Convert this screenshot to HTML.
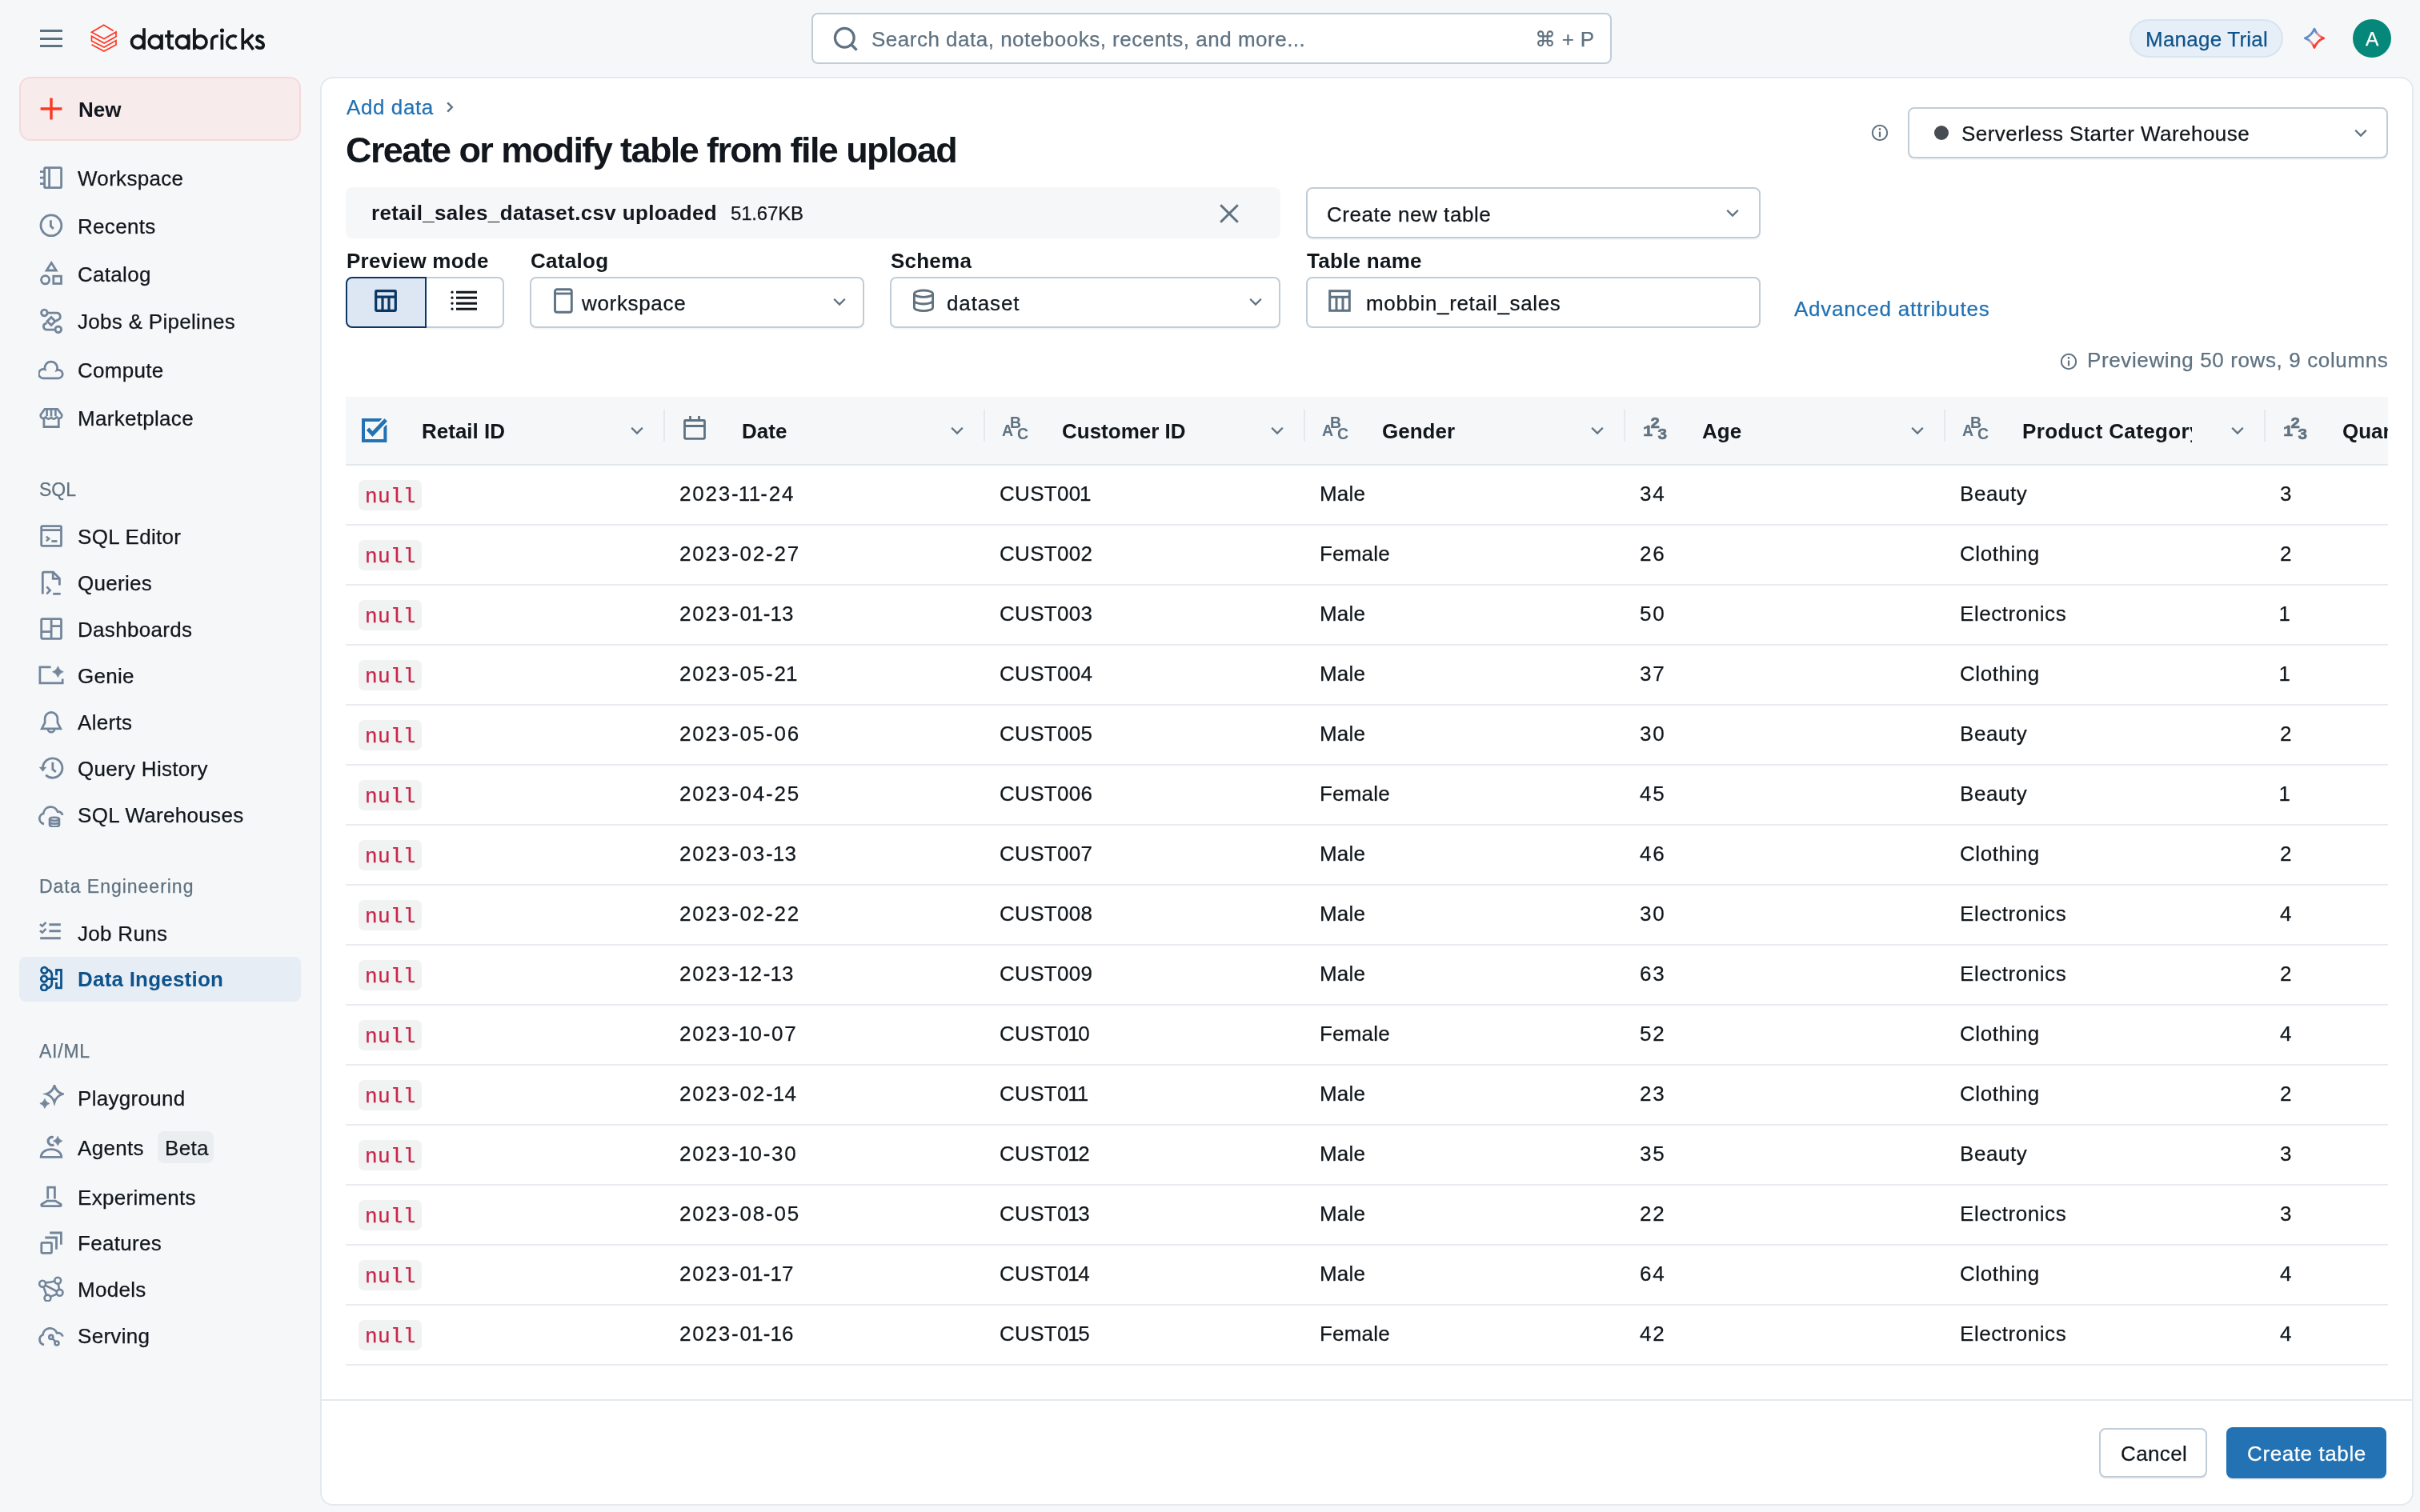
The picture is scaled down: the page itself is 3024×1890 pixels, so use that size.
<!DOCTYPE html><html><head><meta charset="utf-8"><title>Databricks</title><style>
html,body{margin:0;padding:0;background:#F6F7F9;}
#app{position:relative;width:3024px;height:1890px;overflow:hidden;background:#F6F7F9;font-family:"Liberation Sans", sans-serif;color:#11171C;}
.t{position:absolute;white-space:nowrap;will-change:transform;-webkit-text-stroke:0.25px currentColor;}
.r{position:absolute;box-sizing:border-box;}
.t.b{-webkit-text-stroke:0;}
</style></head><body><div id="app">
<div class="r" style="left:50px;top:37px;width:28px;height:3px;background:#5F7281;"></div>
<div class="r" style="left:50px;top:46.5px;width:28px;height:3px;background:#5F7281;"></div>
<div class="r" style="left:50px;top:56px;width:28px;height:3px;background:#5F7281;"></div>
<svg class="r" style="left:112px;top:29px;" width="36" height="38" viewBox="112 29 36 38" fill="none"><path d="M141.6 38.5L129.7 31.3 114.5 40.3 130 48.6 145 39.9V45.8L130.2 54 114.5 45.3V51.3L130.1 59 145 50.6V56L129.9 64.1 114.5 55.7" stroke="#FF3621" stroke-width="1.7" stroke-linejoin="miter"/></svg>
<svg class="r" style="left:150px;top:25px;" width="190" height="45" viewBox="150 25 190 45" fill="none"><g stroke="#11171C" stroke-width="3.7" fill="none"><circle cx="172.1" cy="52.5" r="7.6"/><path d="M180 35.2V62"/><circle cx="193.9" cy="52.5" r="7.6"/><path d="M202 43.2V62"/><path d="M211 38V56.3Q211 60.1 214.6 60.1H217.1M206.1 45H217.1"/><circle cx="228.1" cy="52.5" r="7.6"/><path d="M235.7 43.2V62"/><circle cx="250.4" cy="52.5" r="7.6"/><path d="M242.8 35.2V62"/><path d="M264.8 62V51.2Q264.8 45 272.8 45"/><path d="M277.4 43.2V62"/><circle cx="277.5" cy="38" r="2.6" fill="#11171C" stroke="none"/><path d="M295.6 46.2A7.6 7.6 0 1 0 295.6 58.8"/><path d="M303.3 35.2V62M316.4 43.4L305 54M308.6 51L316.5 62"/><path d="M328.9 47.6Q327.5 45 324.6 45Q321.1 45 321.1 48.1Q321.1 50.8 325 51.9Q329.2 53.2 329.2 56.4Q329.2 60.1 324.7 60.1Q321.3 60.1 319.8 57.4"/></g></svg>
<div class="r" style="left:1014px;top:16px;width:1000px;height:64px;background:#fff;border:2px solid #C0CDD8;border-radius:8px;"></div>
<svg class="r" style="left:1040px;top:32px;" width="34" height="34" viewBox="0 0 16 16" fill="none"><circle cx="7.2" cy="7.2" r="5.6" stroke="#5F7281" stroke-width="1.5"/><path d="M11.2 11.2L14.4 14.4" stroke="#5F7281" stroke-width="1.6"/></svg>
<div class="t " style="left:1089.0px;top:35.7px;font-size:26px;line-height:26px;color:#5F7281;letter-spacing:0.5px;">Search data, notebooks, recents, and more...</div>
<div class="t " style="left:1918.0px;top:35.7px;font-size:26px;line-height:26px;color:#5F7281;letter-spacing:0.3px;">⌘ + P</div>
<div class="r" style="left:2661px;top:24px;width:192px;height:48px;background:#E6EEF7;border:2px solid #D7E4F1;border-radius:24px;"></div>
<div class="t " style="left:2681.0px;top:36.2px;font-size:26px;line-height:26px;color:#0E538B;letter-spacing:0.23px;">Manage Trial</div>
<svg class="r" style="left:2876px;top:32px;" width="32" height="32" viewBox="0 0 16 16" fill="none"><defs><linearGradient id="sg" x1="0" y1="0" x2="1" y2="1"><stop offset="0" stop-color="#4F80C5"/><stop offset="0.40" stop-color="#6690C9"/><stop offset="0.45" stop-color="#E3929B"/><stop offset="0.6" stop-color="#E3848F"/><stop offset="0.68" stop-color="#FF3B2B"/><stop offset="1" stop-color="#FF3621"/></linearGradient></defs><path d="M8 2.05Q9.6 6.3 13.85 7.9Q9.6 9.5 8 13.75Q6.4 9.5 2.15 7.9Q6.4 6.3 8 2.05Z" stroke="url(#sg)" stroke-width="1.35" stroke-linejoin="round"/></svg>
<div class="r" style="left:2940px;top:24px;width:48px;height:48px;background:#05877A;border-radius:50%;"></div>
<div class="t " style="left:2956.0px;top:36.5px;font-size:24.5px;line-height:24.5px;color:#fff;letter-spacing:0px;">A</div>
<div class="r" style="left:24px;top:96px;width:352px;height:80px;background:#F8EBEC;border:2px solid #F6DADB;border-radius:14px;"></div>
<svg class="r" style="left:48px;top:120px;" width="32" height="32" viewBox="0 0 16 16" fill="none"><path d="M8 1.3V14.7M1.3 8H14.7" stroke="#FF3621" stroke-width="1.7"/></svg>
<div class="t b" style="left:97.5px;top:124.2px;font-size:26px;line-height:26px;color:#11171C;font-weight:700;letter-spacing:0.0px;">New</div>
<div class="r" style="left:24px;top:1196px;width:352px;height:56px;background:#E6EDF5;border-radius:8px;"></div>
<svg class="r" style="left:48px;top:205.8px;" width="32" height="32" viewBox="0 0 16 16" fill="none"><rect x="3.8" y="1.8" width="10.5" height="12.5" rx="0.7" stroke="#72859A" stroke-width="1.4" stroke-linecap="butt" stroke-linejoin="miter"/><path d="M6.8 1.8v12.5M1 4.3h2.8M1 8.05h2.8M1 11.8h2.8" stroke="#72859A" stroke-width="1.4" stroke-linecap="butt" stroke-linejoin="miter"/></svg>
<div class="t " style="left:96.8px;top:209.8px;font-size:26px;line-height:26px;color:#11171C;letter-spacing:0.3px;">Workspace</div>
<svg class="r" style="left:48px;top:265.9px;" width="32" height="32" viewBox="0 0 16 16" fill="none"><circle cx="7.95" cy="7.9" r="6.45" stroke="#72859A" stroke-width="1.4" stroke-linecap="butt" stroke-linejoin="miter"/><path d="M7.7 4.6V8.3L9.4 10" stroke="#72859A" stroke-width="1.4" stroke-linecap="butt" stroke-linejoin="miter"/></svg>
<div class="t " style="left:96.8px;top:269.9px;font-size:26px;line-height:26px;color:#11171C;letter-spacing:0.3px;">Recents</div>
<svg class="r" style="left:48px;top:325.6px;" width="32" height="32" viewBox="0 0 16 16" fill="none"><path d="M8.1 1.3L11.1 6H5.1Z" stroke="#72859A" stroke-width="1.4" stroke-linecap="butt" stroke-linejoin="miter"/><circle cx="4.3" cy="11.9" r="2.55" stroke="#72859A" stroke-width="1.4" stroke-linecap="butt" stroke-linejoin="miter"/><rect x="9.4" y="9.6" width="4.85" height="4.65" stroke="#72859A" stroke-width="1.4" stroke-linecap="butt" stroke-linejoin="miter"/></svg>
<div class="t " style="left:96.8px;top:329.6px;font-size:26px;line-height:26px;color:#11171C;letter-spacing:0.3px;">Catalog</div>
<svg class="r" style="left:48px;top:385.4px;" width="32" height="32" viewBox="0 0 16 16" fill="none"><circle cx="3.7" cy="3.0" r="1.9" stroke="#72859A" stroke-width="1.4" stroke-linecap="butt" stroke-linejoin="miter"/><circle cx="12.4" cy="13.4" r="1.9" stroke="#72859A" stroke-width="1.4" stroke-linecap="butt" stroke-linejoin="miter"/><path d="M5.6 3.1H11.3A2.25 2.25 0 0 1 12.2 7.45L10.6 8.2M5.4 9.4L4.3 9.8A2 2 0 0 0 5.5 13.55H10.5" stroke="#72859A" stroke-width="1.4" stroke-linecap="butt" stroke-linejoin="miter"/><path d="M8 5.8L10.5 8.3 8 10.8 5.5 8.3Z" stroke="#72859A" stroke-width="1.4" stroke-linecap="butt" stroke-linejoin="miter"/></svg>
<div class="t " style="left:96.8px;top:389.4px;font-size:26px;line-height:26px;color:#11171C;letter-spacing:0.3px;">Jobs &amp; Pipelines</div>
<svg class="r" style="left:48px;top:445.6px;" width="32" height="32" viewBox="0 0 16 16" fill="none"><path d="M3.1 13.4H12.6A2.6 2.6 0 1 0 11.5 8.4A3.9 3.9 0 1 0 4.1 7.9A2.85 2.85 0 1 0 3.1 13.4Z" stroke="#72859A" stroke-width="1.35" stroke-linecap="butt" stroke-linejoin="miter"/></svg>
<div class="t " style="left:96.8px;top:449.6px;font-size:26px;line-height:26px;color:#11171C;letter-spacing:0.3px;">Compute</div>
<svg class="r" style="left:48px;top:505.70000000000005px;" width="32" height="32" viewBox="0 0 16 16" fill="none"><path d="M3.95 2.7H11.95L14.6 6.2A1.65 1.65 0 0 1 11.25 7.2A1.6 1.6 0 0 1 8 7.2A1.6 1.6 0 0 1 4.75 7.2A1.65 1.65 0 0 1 1.4 6.2Z" stroke="#72859A" stroke-width="1.3" stroke-linecap="butt" stroke-linejoin="miter" stroke-linejoin="round"/><path d="M5.3 2.7V7M8 2.7V7M10.7 2.7V7" stroke="#72859A" stroke-width="1.3" stroke-linecap="butt" stroke-linejoin="miter"/><path d="M3.45 8.3V13.75H12.65V8.3" stroke="#72859A" stroke-width="1.4" stroke-linecap="butt" stroke-linejoin="miter"/></svg>
<div class="t " style="left:96.8px;top:509.7px;font-size:26px;line-height:26px;color:#11171C;letter-spacing:0.3px;">Marketplace</div>
<svg class="r" style="left:48px;top:654px;" width="32" height="32" viewBox="0 0 16 16" fill="none"><rect x="1.85" y="1.85" width="12.4" height="12.35" rx="0.6" stroke="#72859A" stroke-width="1.4" stroke-linecap="butt" stroke-linejoin="miter"/><path d="M1.8 4.3H14.2" stroke="#72859A" stroke-width="1.4" stroke-linecap="butt" stroke-linejoin="miter"/><path d="M4.9 8.3L6.6 9.75 4.9 11.2" stroke="#72859A" stroke-width="1.25" stroke-linecap="butt" stroke-linejoin="miter"/><path d="M8.2 11.25H11.7" stroke="#72859A" stroke-width="1.4" stroke-linecap="butt" stroke-linejoin="miter"/></svg>
<div class="t " style="left:96.8px;top:658.0px;font-size:26px;line-height:26px;color:#11171C;letter-spacing:0.3px;">SQL Editor</div>
<svg class="r" style="left:48px;top:711.9px;" width="32" height="32" viewBox="0 0 16 16" fill="none"><path d="M2.65 15.2V2.3A0.7 0.7 0 0 1 3.35 1.6H9.3L13.2 5.5V9.8" stroke="#72859A" stroke-width="1.4" stroke-linecap="butt" stroke-linejoin="miter"/><path d="M9.1 1.6V5.7H13.2" stroke="#72859A" stroke-width="1.35" stroke-linecap="butt" stroke-linejoin="miter"/><path d="M5.2 10.7L7.3 12.95 5.2 15.2" stroke="#72859A" stroke-width="1.35" stroke-linecap="butt" stroke-linejoin="miter"/><path d="M9.1 15.15H13.85" stroke="#72859A" stroke-width="1.4" stroke-linecap="butt" stroke-linejoin="miter"/></svg>
<div class="t " style="left:96.8px;top:715.9px;font-size:26px;line-height:26px;color:#11171C;letter-spacing:0.3px;">Queries</div>
<svg class="r" style="left:48px;top:769.8px;" width="32" height="32" viewBox="0 0 16 16" fill="none"><rect x="1.85" y="1.8" width="12.4" height="12.35" rx="0.6" stroke="#72859A" stroke-width="1.4" stroke-linecap="butt" stroke-linejoin="miter"/><path d="M8.05 1.8V14.15M1.8 9.8H8.05M8.05 6.35H14.25" stroke="#72859A" stroke-width="1.4" stroke-linecap="butt" stroke-linejoin="miter"/></svg>
<div class="t " style="left:96.8px;top:773.8px;font-size:26px;line-height:26px;color:#11171C;letter-spacing:0.3px;">Dashboards</div>
<svg class="r" style="left:48px;top:827.8px;" width="32" height="32" viewBox="0 0 16 16" fill="none"><path d="M7.8 2.95H0.95V12.9H15.1V10.3" stroke="#72859A" stroke-width="1.35" stroke-linecap="butt" stroke-linejoin="miter"/><path d="M12.2 2.4Q13 5.1 15.7 5.9Q13 6.7 12.2 9.4Q11.4 6.7 8.7 5.9Q11.4 5.1 12.2 2.4Z" fill="#72859A" stroke="#72859A" stroke-width="0.3" stroke-linejoin="round"/></svg>
<div class="t " style="left:96.8px;top:831.8px;font-size:26px;line-height:26px;color:#11171C;letter-spacing:0.3px;">Genie</div>
<svg class="r" style="left:48px;top:885.5px;" width="32" height="32" viewBox="0 0 16 16" fill="none"><path d="M8 2.2C5.85 2.2 4.05 3.9 4.05 6.2V8.7L2.1 12.4H13.9L11.95 8.7V6.2C11.95 3.9 10.15 2.2 8 2.2Z" stroke="#72859A" stroke-width="1.35" stroke-linecap="butt" stroke-linejoin="miter" stroke-linejoin="round"/><path d="M5.9 12.5A2.1 2.1 0 0 0 10.1 12.5" stroke="#72859A" stroke-width="1.35" stroke-linecap="butt" stroke-linejoin="miter"/></svg>
<div class="t " style="left:96.8px;top:889.5px;font-size:26px;line-height:26px;color:#11171C;letter-spacing:0.3px;">Alerts</div>
<svg class="r" style="left:48px;top:943.5px;" width="32" height="32" viewBox="0 0 16 16" fill="none"><path d="M2.9 9.1A5.9 5.9 0 1 0 4.9 3.6" stroke="#72859A" stroke-width="1.0" stroke-linecap="butt" stroke-linejoin="miter" opacity="0"/><path d="M2.75 8.05A6.1 6.1 0 1 1 4.6 12.4" stroke="#72859A" stroke-width="1.4" stroke-linecap="butt" stroke-linejoin="miter"/><path d="M0.4 7.35H5.1L2.75 10.2Z" fill="#72859A"/><path d="M8.9 4.4V8.8L10.9 10.4" stroke="#72859A" stroke-width="1.4" stroke-linecap="butt" stroke-linejoin="miter"/></svg>
<div class="t " style="left:96.8px;top:947.5px;font-size:26px;line-height:26px;color:#11171C;letter-spacing:0.3px;">Query History</div>
<svg class="r" style="left:48px;top:1001.5999999999999px;" width="32" height="32" viewBox="0 0 16 16" fill="none"><path d="M3.5 13.9A3.3 3.3 0 0 1 3.1 7.45A4.6 4.6 0 0 1 12 6.3A3 3 0 0 1 15.1 8.45" stroke="#72859A" stroke-width="1.35" stroke-linecap="butt" stroke-linejoin="miter"/><ellipse cx="10" cy="10.9" rx="3" ry="1.05" stroke="#72859A" stroke-width="1.3" stroke-linecap="butt" stroke-linejoin="miter"/><path d="M7 10.9V14.6A3 1.05 0 0 0 13 14.6V10.9M7 12.75A3 1.05 0 0 0 13 12.75" stroke="#72859A" stroke-width="1.3" stroke-linecap="butt" stroke-linejoin="miter"/></svg>
<div class="t " style="left:96.8px;top:1005.6px;font-size:26px;line-height:26px;color:#11171C;letter-spacing:0.3px;">SQL Warehouses</div>
<svg class="r" style="left:48px;top:1149.8px;" width="32" height="32" viewBox="0 0 16 16" fill="none"><path d="M1 2.6L2.4 3.9 4.7 1.5M1 6.6L2.4 7.9 4.7 5.5" stroke="#72859A" stroke-width="1.3" stroke-linecap="butt" stroke-linejoin="miter"/><path d="M6.7 2.85H13.9M6.7 6.85H13.9M1.1 11.35H13.9" stroke="#72859A" stroke-width="1.45" stroke-linecap="butt" stroke-linejoin="miter"/></svg>
<div class="t " style="left:96.8px;top:1153.8px;font-size:26px;line-height:26px;color:#11171C;letter-spacing:0.3px;">Job Runs</div>
<svg class="r" style="left:48px;top:1207.2px;" width="32" height="32" viewBox="0 0 16 16" fill="none"><circle cx="3.7" cy="2.95" r="1.9" stroke="#0E538B" stroke-width="1.4" stroke-linecap="butt" stroke-linejoin="miter"/><circle cx="3.55" cy="8.3" r="1.9" stroke="#0E538B" stroke-width="1.4" stroke-linecap="butt" stroke-linejoin="miter"/><circle cx="3.55" cy="13.7" r="1.9" stroke="#0E538B" stroke-width="1.4" stroke-linecap="butt" stroke-linejoin="miter"/><path d="M5.3 2.4Q8.4 3 8.4 6V10.8Q8.4 13.7 5.3 14.2M5.5 8.3H11.9" stroke="#0E538B" stroke-width="1.4" stroke-linecap="butt" stroke-linejoin="miter"/><path d="M11.25 6.1V2.75H14.25V13.9H11.25V10.5" stroke="#0E538B" stroke-width="1.4" stroke-linecap="butt" stroke-linejoin="miter"/></svg>
<div class="t b" style="left:96.8px;top:1211.2px;font-size:26px;line-height:26px;color:#0E538B;font-weight:700;letter-spacing:0.21px;">Data Ingestion</div>
<svg class="r" style="left:48px;top:1356.4px;" width="32" height="32" viewBox="0 0 16 16" fill="none"><path d="M10 0.5Q11.2 4.55 15.15 5.75Q11.2 6.95 10 11Q8.8 6.95 4.85 5.75Q8.8 4.55 10 0.5Z" stroke="#72859A" stroke-width="1.4" stroke-linecap="butt" stroke-linejoin="miter" stroke-linejoin="round"/><path d="M3.95 8.7Q4.6 11.05 6.95 11.7Q4.6 12.35 3.95 14.7Q3.3 12.35 0.95 11.7Q3.3 11.05 3.95 8.7Z" fill="#72859A" stroke="#72859A" stroke-width="0.4" stroke-linejoin="round"/></svg>
<div class="t " style="left:96.8px;top:1360.4px;font-size:26px;line-height:26px;color:#11171C;letter-spacing:0.3px;">Playground</div>
<svg class="r" style="left:48px;top:1418px;" width="32" height="32" viewBox="0 0 16 16" fill="none"><path d="M1.6 14.2C1.6 11.3 4.4 9.3 8 9.3S14.4 11.3 14.4 14.2Z" stroke="#72859A" stroke-width="1.4" stroke-linecap="butt" stroke-linejoin="miter" stroke-linejoin="round"/><path d="M9.3 1.85A2.5 2.5 0 1 0 9.7 6.45" stroke="#72859A" stroke-width="1.6" stroke-linecap="butt" stroke-linejoin="miter"/><path d="M12.1 1.2Q12.75 3.45 15 4.1Q12.75 4.75 12.1 7Q11.45 4.75 9.2 4.1Q11.45 3.45 12.1 1.2Z" fill="#72859A" stroke="#72859A" stroke-width="0.4" stroke-linejoin="round"/></svg>
<div class="t " style="left:96.8px;top:1422.0px;font-size:26px;line-height:26px;color:#11171C;letter-spacing:0.3px;">Agents</div>
<svg class="r" style="left:48px;top:1479.5px;" width="32" height="32" viewBox="0 0 16 16" fill="none"><path d="M5.85 9.3V2.05H10.2V9.3" stroke="#72859A" stroke-width="1.4" stroke-linecap="butt" stroke-linejoin="miter"/><path d="M5.4 10.55H10.6L13.9 12.6A0.7 0.7 0 0 1 13.5 13.85H2.5A0.7 0.7 0 0 1 2.1 12.6Z" stroke="#72859A" stroke-width="1.4" stroke-linecap="butt" stroke-linejoin="miter" stroke-linejoin="round"/></svg>
<div class="t " style="left:96.8px;top:1483.5px;font-size:26px;line-height:26px;color:#11171C;letter-spacing:0.3px;">Experiments</div>
<svg class="r" style="left:48px;top:1537px;" width="32" height="32" viewBox="0 0 16 16" fill="none"><rect x="1.9" y="8.2" width="6.35" height="6.45" rx="0.5" stroke="#72859A" stroke-width="1.4" stroke-linecap="butt" stroke-linejoin="miter"/><path d="M4.15 5H11.25V12.35M7.1 2H14.2V9.35" stroke="#72859A" stroke-width="1.4" stroke-linecap="butt" stroke-linejoin="miter"/></svg>
<div class="t " style="left:96.8px;top:1541.0px;font-size:26px;line-height:26px;color:#11171C;letter-spacing:0.3px;">Features</div>
<svg class="r" style="left:48px;top:1595.4px;" width="32" height="32" viewBox="0 0 16 16" fill="none"><circle cx="2.55" cy="4.85" r="1.95" stroke="#72859A" stroke-width="1.3" stroke-linecap="butt" stroke-linejoin="miter"/><circle cx="12.1" cy="2.85" r="1.95" stroke="#72859A" stroke-width="1.3" stroke-linecap="butt" stroke-linejoin="miter"/><circle cx="13.3" cy="10.4" r="1.95" stroke="#72859A" stroke-width="1.3" stroke-linecap="butt" stroke-linejoin="miter"/><circle cx="5.75" cy="13.75" r="1.95" stroke="#72859A" stroke-width="1.3" stroke-linecap="butt" stroke-linejoin="miter"/><path d="M4.45 4.2Q7.3 4.1 10.2 3.3M4.3 5.8L11.4 9.5M3.2 6.7L5 11.9M12.4 4.8L13 8.45M11.5 11.3L7.6 12.95" stroke="#72859A" stroke-width="1.3" stroke-linecap="butt" stroke-linejoin="miter"/></svg>
<div class="t " style="left:96.8px;top:1599.4px;font-size:26px;line-height:26px;color:#11171C;letter-spacing:0.3px;">Models</div>
<svg class="r" style="left:48px;top:1653.3px;" width="32" height="32" viewBox="0 0 16 16" fill="none"><path d="M3.55 14A3.3 3.3 0 0 1 2.8 7.7A4.5 4.5 0 0 1 11.5 6.6A3.3 3.3 0 0 1 15.25 8.85" stroke="#72859A" stroke-width="1.35" stroke-linecap="butt" stroke-linejoin="miter"/><circle cx="7.9" cy="9.2" r="1.25" stroke="#72859A" stroke-width="1.3" stroke-linecap="butt" stroke-linejoin="miter"/><circle cx="11.5" cy="13" r="1.25" stroke="#72859A" stroke-width="1.3" stroke-linecap="butt" stroke-linejoin="miter"/><path d="M8.8 10.1L10.6 12.1" stroke="#72859A" stroke-width="1.3" stroke-linecap="butt" stroke-linejoin="miter"/></svg>
<div class="t " style="left:96.8px;top:1657.3px;font-size:26px;line-height:26px;color:#11171C;letter-spacing:0.3px;">Serving</div>
<div class="t " style="left:48.5px;top:601.1px;font-size:23px;line-height:23px;color:#5F7281;letter-spacing:-0.01px;">SQL</div>
<div class="t " style="left:48.5px;top:1097.2px;font-size:23px;line-height:23px;color:#5F7281;letter-spacing:0.98px;">Data Engineering</div>
<div class="t " style="left:48.5px;top:1303.0px;font-size:23px;line-height:23px;color:#5F7281;letter-spacing:0.76px;">AI/ML</div>
<div class="r" style="left:197px;top:1414px;width:70px;height:40px;background:#EBEEF1;border-radius:8px;"></div>
<div class="t " style="left:206.0px;top:1422.0px;font-size:26px;line-height:26px;color:#11171C;letter-spacing:0.3px;">Beta</div>
<div class="r" style="left:400px;top:96px;width:2616px;height:1786px;background:#fff;border:2px solid #E4E9EE;border-radius:16px;"></div>
<div class="t " style="left:433.0px;top:121.3px;font-size:26px;line-height:26px;color:#2272B4;letter-spacing:0.59px;">Add data</div>
<svg class="r" style="left:552px;top:124px;" width="20" height="20" viewBox="0 0 10 10" fill="none"><path d="M3.6 2.2L6.4 5 3.6 7.8" stroke="#5F7281" stroke-width="1.2"/></svg>
<div class="t title b" style="left:432.0px;top:164.9px;font-size:45px;line-height:45px;color:#11171C;font-weight:700;letter-spacing:-1.59px;">Create or modify table from file upload</div>
<svg class="r" style="left:2338px;top:155px;" width="22" height="22" viewBox="0 0 11 11" fill="none"><circle cx="5.5" cy="5.5" r="4.6" stroke="#5F7281" stroke-width="1"/><path d="M5.5 4.8V8.2" stroke="#5F7281" stroke-width="1.1"/><circle cx="5.5" cy="3.2" r="0.65" fill="#5F7281"/></svg>
<div class="r" style="left:2384px;top:134px;width:600px;height:64px;background:#fff;border:2px solid #C0CDD8;border-radius:8px;box-shadow:0 2px 1px rgba(0,0,0,0.04);"></div>
<div class="r" style="left:2417px;top:157px;width:18px;height:18px;background:#464C52;border-radius:50%;"></div>
<div class="t " style="left:2451.0px;top:153.6px;font-size:26px;line-height:26px;color:#11171C;letter-spacing:0.46px;">Serverless Starter Warehouse</div>
<svg class="r" style="left:2938px;top:154px;" width="24" height="24" viewBox="0 0 12 12" fill="none"><path d="M2.6 4.4L6 7.8 9.4 4.4" stroke="#5F7281" stroke-width="1.15"/></svg>
<div class="r" style="left:432px;top:234px;width:1168px;height:64px;background:#F6F7F9;border-radius:8px;"></div>
<div class="t b" style="left:464.0px;top:252.8px;font-size:26px;line-height:26px;color:#11171C;font-weight:700;letter-spacing:0.35px;">retail_sales_dataset.csv uploaded</div>
<div class="t " style="left:913.0px;top:254.5px;font-size:24px;line-height:24px;color:#11171C;letter-spacing:-0.17px;">51.67KB</div>
<svg class="r" style="left:1520px;top:251px;" width="32" height="32" viewBox="0 0 16 16" fill="none"><path d="M2.6 2.6L13.4 13.4M13.4 2.6L2.6 13.4" stroke="#5F7281" stroke-width="1.5"/></svg>
<div class="r" style="left:1632px;top:234px;width:568px;height:64px;background:#fff;border:2px solid #C0CDD8;border-radius:8px;box-shadow:0 2px 1px rgba(0,0,0,0.04);"></div>
<div class="t " style="left:1658.0px;top:254.6px;font-size:26px;line-height:26px;color:#11171C;letter-spacing:0.54px;">Create new table</div>
<svg class="r" style="left:2153px;top:254px;" width="24" height="24" viewBox="0 0 12 12" fill="none"><path d="M2.6 4.4L6 7.8 9.4 4.4" stroke="#5F7281" stroke-width="1.15"/></svg>
<div class="t b" style="left:432.5px;top:313.0px;font-size:26px;line-height:26px;color:#11171C;font-weight:700;letter-spacing:0.23px;">Preview mode</div>
<div class="t b" style="left:662.5px;top:313.0px;font-size:26px;line-height:26px;color:#11171C;font-weight:700;letter-spacing:0.29px;">Catalog</div>
<div class="t b" style="left:1112.5px;top:313.0px;font-size:26px;line-height:26px;color:#11171C;font-weight:700;letter-spacing:0.23px;">Schema</div>
<div class="t b" style="left:1632.5px;top:313.0px;font-size:26px;line-height:26px;color:#11171C;font-weight:700;letter-spacing:0.27px;">Table name</div>
<div class="r" style="left:530px;top:346px;width:100px;height:64px;background:#fff;border:2px solid #C0CDD8;border-left:none;border-radius:0 8px 8px 0;box-shadow:0 2px 1px rgba(0,0,0,0.04);"></div>
<div class="r" style="left:432px;top:346px;width:101px;height:64px;background:#DDE7F3;border:2px solid #0B3765;border-radius:8px 0 0 8px;"></div>
<svg class="r" style="left:466px;top:360px;" width="32" height="32" viewBox="0 0 16 16" fill="none"><rect x="1.85" y="1.85" width="12.3" height="12.3" rx="0.4" stroke="#0B3765" stroke-width="1.6"/><path d="M1.8 5.6H14.2M6 5.6V14.2M10 5.6V14.2" stroke="#0B3765" stroke-width="1.6"/></svg>
<svg class="r" style="left:562px;top:362px;" width="36" height="28" viewBox="0 0 18 14" fill="none"><circle cx="1.5" cy="1.6" r="0.8" fill="#11171C"/><circle cx="1.5" cy="5.1" r="0.8" fill="#11171C"/><circle cx="1.5" cy="8.6" r="0.8" fill="#11171C"/><circle cx="1.5" cy="12.1" r="0.8" fill="#11171C"/><path d="M4 1.6H17M4 5.1H17M4 8.6H17M4 12.1H17" stroke="#11171C" stroke-width="1.45"/></svg>
<div class="r" style="left:662px;top:346px;width:418px;height:64px;background:#fff;border:2px solid #C0CDD8;border-radius:8px;box-shadow:0 2px 1px rgba(0,0,0,0.04);"></div>
<svg class="r" style="left:688px;top:360px;" width="32" height="32" viewBox="0 0 16 16" fill="none"><rect x="2.75" y="0.85" width="10.4" height="14.3" rx="1.3" stroke="#5F7281" stroke-width="1.45"/><path d="M2.75 3.5H13.15" stroke="#5F7281" stroke-width="1.4"/></svg>
<div class="t " style="left:727.0px;top:365.6px;font-size:26px;line-height:26px;color:#11171C;letter-spacing:0.67px;">workspace</div>
<svg class="r" style="left:1037px;top:365px;" width="24" height="24" viewBox="0 0 12 12" fill="none"><path d="M2.6 4.4L6 7.8 9.4 4.4" stroke="#5F7281" stroke-width="1.15"/></svg>
<div class="r" style="left:1112px;top:346px;width:488px;height:64px;background:#fff;border:2px solid #C0CDD8;border-radius:8px;box-shadow:0 2px 1px rgba(0,0,0,0.04);"></div>
<svg class="r" style="left:1138px;top:360px;" width="32" height="32" viewBox="0 0 16 16" fill="none"><ellipse cx="8" cy="3.6" rx="5.8" ry="2.1" stroke="#5F7281" stroke-width="1.4"/><path d="M2.2 3.6V12.2A5.8 2.1 0 0 0 13.8 12.2V3.6M2.2 7.9A5.8 2.1 0 0 0 13.8 7.9" stroke="#5F7281" stroke-width="1.4"/></svg>
<div class="t " style="left:1183.0px;top:365.6px;font-size:26px;line-height:26px;color:#11171C;letter-spacing:0.88px;">dataset</div>
<svg class="r" style="left:1557px;top:365px;" width="24" height="24" viewBox="0 0 12 12" fill="none"><path d="M2.6 4.4L6 7.8 9.4 4.4" stroke="#5F7281" stroke-width="1.15"/></svg>
<div class="r" style="left:1632px;top:346px;width:568px;height:64px;background:#fff;border:2px solid #C0CDD8;border-radius:8px;"></div>
<svg class="r" style="left:1658px;top:360px;" width="32" height="32" viewBox="0 0 16 16" fill="none"><rect x="1.85" y="1.85" width="12.3" height="12.3" stroke="#5F7281" stroke-width="1.5"/><path d="M1.8 5.6H14.2M6 5.6V14.2M10 5.6V14.2" stroke="#5F7281" stroke-width="1.5"/></svg>
<div class="t " style="left:1707.0px;top:365.6px;font-size:26px;line-height:26px;color:#11171C;letter-spacing:0.64px;">mobbin_retail_sales</div>
<div class="t " style="left:2242.0px;top:372.5px;font-size:26px;line-height:26px;color:#2272B4;letter-spacing:0.77px;">Advanced attributes</div>
<svg class="r" style="left:2574px;top:441px;" width="22" height="22" viewBox="0 0 11 11" fill="none"><circle cx="5.5" cy="5.5" r="4.6" stroke="#5F7281" stroke-width="1"/><path d="M5.5 4.8V8.2" stroke="#5F7281" stroke-width="1.1"/><circle cx="5.5" cy="3.2" r="0.65" fill="#5F7281"/></svg>
<div class="t " style="left:2608.0px;top:437.2px;font-size:26px;line-height:26px;color:#5F7281;letter-spacing:0.62px;">Previewing 50 rows, 9 columns</div>
<div class="r" style="left:432px;top:496px;width:2552px;height:85px;background:#F6F7F9;"></div>
<div class="r" style="left:432px;top:580px;width:2552px;height:2px;background:#E3E8ED;"></div>
<div class="r" style="left:829px;top:512px;width:2px;height:40px;background:#E4E9EE;"></div>
<div class="r" style="left:1229px;top:512px;width:2px;height:40px;background:#E4E9EE;"></div>
<div class="r" style="left:1629px;top:512px;width:2px;height:40px;background:#E4E9EE;"></div>
<div class="r" style="left:2029px;top:512px;width:2px;height:40px;background:#E4E9EE;"></div>
<div class="r" style="left:2429px;top:512px;width:2px;height:40px;background:#E4E9EE;"></div>
<div class="r" style="left:2829px;top:512px;width:2px;height:40px;background:#E4E9EE;"></div>
<svg class="r" style="left:446px;top:517px;" width="44" height="42" viewBox="446 517 44 42" fill="none"><path d="M477.2 525H454V551H481.4V531.2" stroke="#2272B4" stroke-width="4"/><path d="M459.6 536.1L465.5 542.4L482.2 524.8" stroke="#F6F7F9" stroke-width="9"/><path d="M459.6 536.1L465.5 542.4L482.2 524.8" stroke="#2272B4" stroke-width="4.8"/></svg>
<div class="t b" style="left:526.5px;top:526.4px;font-size:26px;line-height:26px;color:#11171C;font-weight:700;letter-spacing:0.0px;">Retail ID</div>
<svg class="r" style="left:784px;top:526px;" width="24" height="24" viewBox="0 0 12 12" fill="none"><path d="M2.6 4.4L6 7.8 9.4 4.4" stroke="#5F7281" stroke-width="1.15"/></svg>
<svg class="r" style="left:852px;top:518px;" width="32" height="36" viewBox="0 -2 16 18" fill="none"><rect x="1.75" y="1.75" width="12.5" height="11.4" rx="0.5" stroke="#5F7281" stroke-width="1.4"/><path d="M1.75 5.25H14.25M5.25 -1.05V1.75M10.75 -1.05V1.75" stroke="#5F7281" stroke-width="1.4"/></svg>
<div class="t b" style="left:927.4px;top:526.4px;font-size:26px;line-height:26px;color:#11171C;font-weight:700;letter-spacing:0px;">Date</div>
<svg class="r" style="left:1184px;top:526px;" width="24" height="24" viewBox="0 0 12 12" fill="none"><path d="M2.6 4.4L6 7.8 9.4 4.4" stroke="#5F7281" stroke-width="1.15"/></svg>
<div class="t b" style="left:1251.6px;top:529.2px;font-size:19.5px;line-height:19.5px;color:#5F7281;font-weight:700;letter-spacing:0px;">A</div>
<div class="t b" style="left:1261.9px;top:519.3px;font-size:19.5px;line-height:19.5px;color:#5F7281;font-weight:700;letter-spacing:0px;">B</div>
<div class="t b" style="left:1271.2px;top:533.2px;font-size:19.5px;line-height:19.5px;color:#5F7281;font-weight:700;letter-spacing:0px;">C</div>
<div class="t b" style="left:1327.4px;top:526.4px;font-size:26px;line-height:26px;color:#11171C;font-weight:700;letter-spacing:0px;">Customer ID</div>
<svg class="r" style="left:1584px;top:526px;" width="24" height="24" viewBox="0 0 12 12" fill="none"><path d="M2.6 4.4L6 7.8 9.4 4.4" stroke="#5F7281" stroke-width="1.15"/></svg>
<div class="t b" style="left:1651.6px;top:529.2px;font-size:19.5px;line-height:19.5px;color:#5F7281;font-weight:700;letter-spacing:0px;">A</div>
<div class="t b" style="left:1661.9px;top:519.3px;font-size:19.5px;line-height:19.5px;color:#5F7281;font-weight:700;letter-spacing:0px;">B</div>
<div class="t b" style="left:1671.2px;top:533.2px;font-size:19.5px;line-height:19.5px;color:#5F7281;font-weight:700;letter-spacing:0px;">C</div>
<div class="t b" style="left:1727.4px;top:526.4px;font-size:26px;line-height:26px;color:#11171C;font-weight:700;letter-spacing:0px;">Gender</div>
<svg class="r" style="left:1984px;top:526px;" width="24" height="24" viewBox="0 0 12 12" fill="none"><path d="M2.6 4.4L6 7.8 9.4 4.4" stroke="#5F7281" stroke-width="1.15"/></svg>
<div class="t b" style="left:2052.5px;top:530.1px;font-size:20.5px;line-height:20.5px;color:#5F7281;font-weight:700;font-family:'Liberation Mono', monospace;letter-spacing:0px;-webkit-text-stroke:0.6px currentColor;">1</div>
<div class="t b" style="left:2061.6px;top:520.1px;font-size:20.5px;line-height:20.5px;color:#5F7281;font-weight:700;font-family:'Liberation Mono', monospace;letter-spacing:0px;-webkit-text-stroke:0.6px currentColor;">2</div>
<div class="t b" style="left:2071.1px;top:533.8px;font-size:20.5px;line-height:20.5px;color:#5F7281;font-weight:700;font-family:'Liberation Mono', monospace;letter-spacing:0px;-webkit-text-stroke:0.6px currentColor;">3</div>
<div class="t b" style="left:2127.4px;top:526.4px;font-size:26px;line-height:26px;color:#11171C;font-weight:700;letter-spacing:0px;">Age</div>
<svg class="r" style="left:2384px;top:526px;" width="24" height="24" viewBox="0 0 12 12" fill="none"><path d="M2.6 4.4L6 7.8 9.4 4.4" stroke="#5F7281" stroke-width="1.15"/></svg>
<div class="t b" style="left:2451.6px;top:529.2px;font-size:19.5px;line-height:19.5px;color:#5F7281;font-weight:700;letter-spacing:0px;">A</div>
<div class="t b" style="left:2461.9px;top:519.3px;font-size:19.5px;line-height:19.5px;color:#5F7281;font-weight:700;letter-spacing:0px;">B</div>
<div class="t b" style="left:2471.2px;top:533.2px;font-size:19.5px;line-height:19.5px;color:#5F7281;font-weight:700;letter-spacing:0px;">C</div>
<div class="t b" style="left:2527.4px;top:526.4px;font-size:26px;line-height:26px;color:#11171C;font-weight:700;letter-spacing:0.35px;width:212px;height:36.4px;overflow:hidden;">Product Category</div>
<svg class="r" style="left:2784px;top:526px;" width="24" height="24" viewBox="0 0 12 12" fill="none"><path d="M2.6 4.4L6 7.8 9.4 4.4" stroke="#5F7281" stroke-width="1.15"/></svg>
<div class="t b" style="left:2852.5px;top:530.1px;font-size:20.5px;line-height:20.5px;color:#5F7281;font-weight:700;font-family:'Liberation Mono', monospace;letter-spacing:0px;-webkit-text-stroke:0.6px currentColor;">1</div>
<div class="t b" style="left:2861.6px;top:520.1px;font-size:20.5px;line-height:20.5px;color:#5F7281;font-weight:700;font-family:'Liberation Mono', monospace;letter-spacing:0px;-webkit-text-stroke:0.6px currentColor;">2</div>
<div class="t b" style="left:2871.1px;top:533.8px;font-size:20.5px;line-height:20.5px;color:#5F7281;font-weight:700;font-family:'Liberation Mono', monospace;letter-spacing:0px;-webkit-text-stroke:0.6px currentColor;">3</div>
<div class="t b" style="left:2927.4px;top:526.4px;font-size:26px;line-height:26px;color:#11171C;font-weight:700;letter-spacing:0px;width:56.59999999999991px;height:36.4px;overflow:hidden;">Quantity</div>
<div class="r" style="left:432px;top:655px;width:2552px;height:2px;background:#E8ECF0;"></div>
<div class="r" style="left:448px;top:600px;width:79px;height:38px;background:#F1F2F2;border-radius:7px;"></div>
<div class="t " style="left:456.0px;top:607.6px;font-size:26px;line-height:26px;color:#C8254A;font-family:'Liberation Mono', monospace;letter-spacing:0.3px;">null</div>
<div class="t " style="left:849.0px;top:604.0px;font-size:26px;line-height:26px;color:#11171C;letter-spacing:1.8px;">2023-<span style="margin:0 -1.70px">1</span><span style="margin:0 -1.70px">1</span>-24</div>
<div class="t " style="left:1249.0px;top:604.0px;font-size:26px;line-height:26px;color:#11171C;letter-spacing:0.3px;">CUST00<span style="margin:0 -1.60px">1</span></div>
<div class="t " style="left:1649.0px;top:604.0px;font-size:26px;line-height:26px;color:#11171C;letter-spacing:0.2px;">Male</div>
<div class="t " style="left:2049.0px;top:604.0px;font-size:26px;line-height:26px;color:#11171C;letter-spacing:1.9px;">34</div>
<div class="t " style="left:2449.0px;top:604.0px;font-size:26px;line-height:26px;color:#11171C;letter-spacing:0.55px;">Beauty</div>
<div class="t " style="left:2849.0px;top:604.0px;font-size:26px;line-height:26px;color:#11171C;letter-spacing:1.9px;">3</div>
<div class="r" style="left:432px;top:730px;width:2552px;height:2px;background:#E8ECF0;"></div>
<div class="r" style="left:448px;top:675px;width:79px;height:38px;background:#F1F2F2;border-radius:7px;"></div>
<div class="t " style="left:456.0px;top:682.6px;font-size:26px;line-height:26px;color:#C8254A;font-family:'Liberation Mono', monospace;letter-spacing:0.3px;">null</div>
<div class="t " style="left:849.0px;top:679.0px;font-size:26px;line-height:26px;color:#11171C;letter-spacing:1.8px;">2023-02-27</div>
<div class="t " style="left:1249.0px;top:679.0px;font-size:26px;line-height:26px;color:#11171C;letter-spacing:0.3px;">CUST002</div>
<div class="t " style="left:1649.0px;top:679.0px;font-size:26px;line-height:26px;color:#11171C;letter-spacing:0.2px;">Female</div>
<div class="t " style="left:2049.0px;top:679.0px;font-size:26px;line-height:26px;color:#11171C;letter-spacing:1.9px;">26</div>
<div class="t " style="left:2449.0px;top:679.0px;font-size:26px;line-height:26px;color:#11171C;letter-spacing:0.55px;">Clothing</div>
<div class="t " style="left:2849.0px;top:679.0px;font-size:26px;line-height:26px;color:#11171C;letter-spacing:1.9px;">2</div>
<div class="r" style="left:432px;top:805px;width:2552px;height:2px;background:#E8ECF0;"></div>
<div class="r" style="left:448px;top:750px;width:79px;height:38px;background:#F1F2F2;border-radius:7px;"></div>
<div class="t " style="left:456.0px;top:757.6px;font-size:26px;line-height:26px;color:#C8254A;font-family:'Liberation Mono', monospace;letter-spacing:0.3px;">null</div>
<div class="t " style="left:849.0px;top:754.0px;font-size:26px;line-height:26px;color:#11171C;letter-spacing:1.8px;">2023-0<span style="margin:0 -1.70px">1</span>-<span style="margin:0 -1.70px">1</span>3</div>
<div class="t " style="left:1249.0px;top:754.0px;font-size:26px;line-height:26px;color:#11171C;letter-spacing:0.3px;">CUST003</div>
<div class="t " style="left:1649.0px;top:754.0px;font-size:26px;line-height:26px;color:#11171C;letter-spacing:0.2px;">Male</div>
<div class="t " style="left:2049.0px;top:754.0px;font-size:26px;line-height:26px;color:#11171C;letter-spacing:1.9px;">50</div>
<div class="t " style="left:2449.0px;top:754.0px;font-size:26px;line-height:26px;color:#11171C;letter-spacing:0.55px;">Electronics</div>
<div class="t " style="left:2849.0px;top:754.0px;font-size:26px;line-height:26px;color:#11171C;letter-spacing:1.9px;"><span style="margin:0 -1.50px">1</span></div>
<div class="r" style="left:432px;top:880px;width:2552px;height:2px;background:#E8ECF0;"></div>
<div class="r" style="left:448px;top:825px;width:79px;height:38px;background:#F1F2F2;border-radius:7px;"></div>
<div class="t " style="left:456.0px;top:832.6px;font-size:26px;line-height:26px;color:#C8254A;font-family:'Liberation Mono', monospace;letter-spacing:0.3px;">null</div>
<div class="t " style="left:849.0px;top:829.0px;font-size:26px;line-height:26px;color:#11171C;letter-spacing:1.8px;">2023-05-2<span style="margin:0 -1.70px">1</span></div>
<div class="t " style="left:1249.0px;top:829.0px;font-size:26px;line-height:26px;color:#11171C;letter-spacing:0.3px;">CUST004</div>
<div class="t " style="left:1649.0px;top:829.0px;font-size:26px;line-height:26px;color:#11171C;letter-spacing:0.2px;">Male</div>
<div class="t " style="left:2049.0px;top:829.0px;font-size:26px;line-height:26px;color:#11171C;letter-spacing:1.9px;">37</div>
<div class="t " style="left:2449.0px;top:829.0px;font-size:26px;line-height:26px;color:#11171C;letter-spacing:0.55px;">Clothing</div>
<div class="t " style="left:2849.0px;top:829.0px;font-size:26px;line-height:26px;color:#11171C;letter-spacing:1.9px;"><span style="margin:0 -1.50px">1</span></div>
<div class="r" style="left:432px;top:955px;width:2552px;height:2px;background:#E8ECF0;"></div>
<div class="r" style="left:448px;top:900px;width:79px;height:38px;background:#F1F2F2;border-radius:7px;"></div>
<div class="t " style="left:456.0px;top:907.6px;font-size:26px;line-height:26px;color:#C8254A;font-family:'Liberation Mono', monospace;letter-spacing:0.3px;">null</div>
<div class="t " style="left:849.0px;top:904.0px;font-size:26px;line-height:26px;color:#11171C;letter-spacing:1.8px;">2023-05-06</div>
<div class="t " style="left:1249.0px;top:904.0px;font-size:26px;line-height:26px;color:#11171C;letter-spacing:0.3px;">CUST005</div>
<div class="t " style="left:1649.0px;top:904.0px;font-size:26px;line-height:26px;color:#11171C;letter-spacing:0.2px;">Male</div>
<div class="t " style="left:2049.0px;top:904.0px;font-size:26px;line-height:26px;color:#11171C;letter-spacing:1.9px;">30</div>
<div class="t " style="left:2449.0px;top:904.0px;font-size:26px;line-height:26px;color:#11171C;letter-spacing:0.55px;">Beauty</div>
<div class="t " style="left:2849.0px;top:904.0px;font-size:26px;line-height:26px;color:#11171C;letter-spacing:1.9px;">2</div>
<div class="r" style="left:432px;top:1030px;width:2552px;height:2px;background:#E8ECF0;"></div>
<div class="r" style="left:448px;top:975px;width:79px;height:38px;background:#F1F2F2;border-radius:7px;"></div>
<div class="t " style="left:456.0px;top:982.6px;font-size:26px;line-height:26px;color:#C8254A;font-family:'Liberation Mono', monospace;letter-spacing:0.3px;">null</div>
<div class="t " style="left:849.0px;top:979.0px;font-size:26px;line-height:26px;color:#11171C;letter-spacing:1.8px;">2023-04-25</div>
<div class="t " style="left:1249.0px;top:979.0px;font-size:26px;line-height:26px;color:#11171C;letter-spacing:0.3px;">CUST006</div>
<div class="t " style="left:1649.0px;top:979.0px;font-size:26px;line-height:26px;color:#11171C;letter-spacing:0.2px;">Female</div>
<div class="t " style="left:2049.0px;top:979.0px;font-size:26px;line-height:26px;color:#11171C;letter-spacing:1.9px;">45</div>
<div class="t " style="left:2449.0px;top:979.0px;font-size:26px;line-height:26px;color:#11171C;letter-spacing:0.55px;">Beauty</div>
<div class="t " style="left:2849.0px;top:979.0px;font-size:26px;line-height:26px;color:#11171C;letter-spacing:1.9px;"><span style="margin:0 -1.50px">1</span></div>
<div class="r" style="left:432px;top:1105px;width:2552px;height:2px;background:#E8ECF0;"></div>
<div class="r" style="left:448px;top:1050px;width:79px;height:38px;background:#F1F2F2;border-radius:7px;"></div>
<div class="t " style="left:456.0px;top:1057.6px;font-size:26px;line-height:26px;color:#C8254A;font-family:'Liberation Mono', monospace;letter-spacing:0.3px;">null</div>
<div class="t " style="left:849.0px;top:1054.0px;font-size:26px;line-height:26px;color:#11171C;letter-spacing:1.8px;">2023-03-<span style="margin:0 -1.70px">1</span>3</div>
<div class="t " style="left:1249.0px;top:1054.0px;font-size:26px;line-height:26px;color:#11171C;letter-spacing:0.3px;">CUST007</div>
<div class="t " style="left:1649.0px;top:1054.0px;font-size:26px;line-height:26px;color:#11171C;letter-spacing:0.2px;">Male</div>
<div class="t " style="left:2049.0px;top:1054.0px;font-size:26px;line-height:26px;color:#11171C;letter-spacing:1.9px;">46</div>
<div class="t " style="left:2449.0px;top:1054.0px;font-size:26px;line-height:26px;color:#11171C;letter-spacing:0.55px;">Clothing</div>
<div class="t " style="left:2849.0px;top:1054.0px;font-size:26px;line-height:26px;color:#11171C;letter-spacing:1.9px;">2</div>
<div class="r" style="left:432px;top:1180px;width:2552px;height:2px;background:#E8ECF0;"></div>
<div class="r" style="left:448px;top:1125px;width:79px;height:38px;background:#F1F2F2;border-radius:7px;"></div>
<div class="t " style="left:456.0px;top:1132.6px;font-size:26px;line-height:26px;color:#C8254A;font-family:'Liberation Mono', monospace;letter-spacing:0.3px;">null</div>
<div class="t " style="left:849.0px;top:1129.0px;font-size:26px;line-height:26px;color:#11171C;letter-spacing:1.8px;">2023-02-22</div>
<div class="t " style="left:1249.0px;top:1129.0px;font-size:26px;line-height:26px;color:#11171C;letter-spacing:0.3px;">CUST008</div>
<div class="t " style="left:1649.0px;top:1129.0px;font-size:26px;line-height:26px;color:#11171C;letter-spacing:0.2px;">Male</div>
<div class="t " style="left:2049.0px;top:1129.0px;font-size:26px;line-height:26px;color:#11171C;letter-spacing:1.9px;">30</div>
<div class="t " style="left:2449.0px;top:1129.0px;font-size:26px;line-height:26px;color:#11171C;letter-spacing:0.55px;">Electronics</div>
<div class="t " style="left:2849.0px;top:1129.0px;font-size:26px;line-height:26px;color:#11171C;letter-spacing:1.9px;">4</div>
<div class="r" style="left:432px;top:1255px;width:2552px;height:2px;background:#E8ECF0;"></div>
<div class="r" style="left:448px;top:1200px;width:79px;height:38px;background:#F1F2F2;border-radius:7px;"></div>
<div class="t " style="left:456.0px;top:1207.6px;font-size:26px;line-height:26px;color:#C8254A;font-family:'Liberation Mono', monospace;letter-spacing:0.3px;">null</div>
<div class="t " style="left:849.0px;top:1204.0px;font-size:26px;line-height:26px;color:#11171C;letter-spacing:1.8px;">2023-<span style="margin:0 -1.70px">1</span>2-<span style="margin:0 -1.70px">1</span>3</div>
<div class="t " style="left:1249.0px;top:1204.0px;font-size:26px;line-height:26px;color:#11171C;letter-spacing:0.3px;">CUST009</div>
<div class="t " style="left:1649.0px;top:1204.0px;font-size:26px;line-height:26px;color:#11171C;letter-spacing:0.2px;">Male</div>
<div class="t " style="left:2049.0px;top:1204.0px;font-size:26px;line-height:26px;color:#11171C;letter-spacing:1.9px;">63</div>
<div class="t " style="left:2449.0px;top:1204.0px;font-size:26px;line-height:26px;color:#11171C;letter-spacing:0.55px;">Electronics</div>
<div class="t " style="left:2849.0px;top:1204.0px;font-size:26px;line-height:26px;color:#11171C;letter-spacing:1.9px;">2</div>
<div class="r" style="left:432px;top:1330px;width:2552px;height:2px;background:#E8ECF0;"></div>
<div class="r" style="left:448px;top:1275px;width:79px;height:38px;background:#F1F2F2;border-radius:7px;"></div>
<div class="t " style="left:456.0px;top:1282.6px;font-size:26px;line-height:26px;color:#C8254A;font-family:'Liberation Mono', monospace;letter-spacing:0.3px;">null</div>
<div class="t " style="left:849.0px;top:1279.0px;font-size:26px;line-height:26px;color:#11171C;letter-spacing:1.8px;">2023-<span style="margin:0 -1.70px">1</span>0-07</div>
<div class="t " style="left:1249.0px;top:1279.0px;font-size:26px;line-height:26px;color:#11171C;letter-spacing:0.3px;">CUST0<span style="margin:0 -1.60px">1</span>0</div>
<div class="t " style="left:1649.0px;top:1279.0px;font-size:26px;line-height:26px;color:#11171C;letter-spacing:0.2px;">Female</div>
<div class="t " style="left:2049.0px;top:1279.0px;font-size:26px;line-height:26px;color:#11171C;letter-spacing:1.9px;">52</div>
<div class="t " style="left:2449.0px;top:1279.0px;font-size:26px;line-height:26px;color:#11171C;letter-spacing:0.55px;">Clothing</div>
<div class="t " style="left:2849.0px;top:1279.0px;font-size:26px;line-height:26px;color:#11171C;letter-spacing:1.9px;">4</div>
<div class="r" style="left:432px;top:1405px;width:2552px;height:2px;background:#E8ECF0;"></div>
<div class="r" style="left:448px;top:1350px;width:79px;height:38px;background:#F1F2F2;border-radius:7px;"></div>
<div class="t " style="left:456.0px;top:1357.6px;font-size:26px;line-height:26px;color:#C8254A;font-family:'Liberation Mono', monospace;letter-spacing:0.3px;">null</div>
<div class="t " style="left:849.0px;top:1354.0px;font-size:26px;line-height:26px;color:#11171C;letter-spacing:1.8px;">2023-02-<span style="margin:0 -1.70px">1</span>4</div>
<div class="t " style="left:1249.0px;top:1354.0px;font-size:26px;line-height:26px;color:#11171C;letter-spacing:0.3px;">CUST0<span style="margin:0 -1.60px">1</span><span style="margin:0 -1.60px">1</span></div>
<div class="t " style="left:1649.0px;top:1354.0px;font-size:26px;line-height:26px;color:#11171C;letter-spacing:0.2px;">Male</div>
<div class="t " style="left:2049.0px;top:1354.0px;font-size:26px;line-height:26px;color:#11171C;letter-spacing:1.9px;">23</div>
<div class="t " style="left:2449.0px;top:1354.0px;font-size:26px;line-height:26px;color:#11171C;letter-spacing:0.55px;">Clothing</div>
<div class="t " style="left:2849.0px;top:1354.0px;font-size:26px;line-height:26px;color:#11171C;letter-spacing:1.9px;">2</div>
<div class="r" style="left:432px;top:1480px;width:2552px;height:2px;background:#E8ECF0;"></div>
<div class="r" style="left:448px;top:1425px;width:79px;height:38px;background:#F1F2F2;border-radius:7px;"></div>
<div class="t " style="left:456.0px;top:1432.6px;font-size:26px;line-height:26px;color:#C8254A;font-family:'Liberation Mono', monospace;letter-spacing:0.3px;">null</div>
<div class="t " style="left:849.0px;top:1429.0px;font-size:26px;line-height:26px;color:#11171C;letter-spacing:1.8px;">2023-<span style="margin:0 -1.70px">1</span>0-30</div>
<div class="t " style="left:1249.0px;top:1429.0px;font-size:26px;line-height:26px;color:#11171C;letter-spacing:0.3px;">CUST0<span style="margin:0 -1.60px">1</span>2</div>
<div class="t " style="left:1649.0px;top:1429.0px;font-size:26px;line-height:26px;color:#11171C;letter-spacing:0.2px;">Male</div>
<div class="t " style="left:2049.0px;top:1429.0px;font-size:26px;line-height:26px;color:#11171C;letter-spacing:1.9px;">35</div>
<div class="t " style="left:2449.0px;top:1429.0px;font-size:26px;line-height:26px;color:#11171C;letter-spacing:0.55px;">Beauty</div>
<div class="t " style="left:2849.0px;top:1429.0px;font-size:26px;line-height:26px;color:#11171C;letter-spacing:1.9px;">3</div>
<div class="r" style="left:432px;top:1555px;width:2552px;height:2px;background:#E8ECF0;"></div>
<div class="r" style="left:448px;top:1500px;width:79px;height:38px;background:#F1F2F2;border-radius:7px;"></div>
<div class="t " style="left:456.0px;top:1507.6px;font-size:26px;line-height:26px;color:#C8254A;font-family:'Liberation Mono', monospace;letter-spacing:0.3px;">null</div>
<div class="t " style="left:849.0px;top:1504.0px;font-size:26px;line-height:26px;color:#11171C;letter-spacing:1.8px;">2023-08-05</div>
<div class="t " style="left:1249.0px;top:1504.0px;font-size:26px;line-height:26px;color:#11171C;letter-spacing:0.3px;">CUST0<span style="margin:0 -1.60px">1</span>3</div>
<div class="t " style="left:1649.0px;top:1504.0px;font-size:26px;line-height:26px;color:#11171C;letter-spacing:0.2px;">Male</div>
<div class="t " style="left:2049.0px;top:1504.0px;font-size:26px;line-height:26px;color:#11171C;letter-spacing:1.9px;">22</div>
<div class="t " style="left:2449.0px;top:1504.0px;font-size:26px;line-height:26px;color:#11171C;letter-spacing:0.55px;">Electronics</div>
<div class="t " style="left:2849.0px;top:1504.0px;font-size:26px;line-height:26px;color:#11171C;letter-spacing:1.9px;">3</div>
<div class="r" style="left:432px;top:1630px;width:2552px;height:2px;background:#E8ECF0;"></div>
<div class="r" style="left:448px;top:1575px;width:79px;height:38px;background:#F1F2F2;border-radius:7px;"></div>
<div class="t " style="left:456.0px;top:1582.6px;font-size:26px;line-height:26px;color:#C8254A;font-family:'Liberation Mono', monospace;letter-spacing:0.3px;">null</div>
<div class="t " style="left:849.0px;top:1579.0px;font-size:26px;line-height:26px;color:#11171C;letter-spacing:1.8px;">2023-0<span style="margin:0 -1.70px">1</span>-<span style="margin:0 -1.70px">1</span>7</div>
<div class="t " style="left:1249.0px;top:1579.0px;font-size:26px;line-height:26px;color:#11171C;letter-spacing:0.3px;">CUST0<span style="margin:0 -1.60px">1</span>4</div>
<div class="t " style="left:1649.0px;top:1579.0px;font-size:26px;line-height:26px;color:#11171C;letter-spacing:0.2px;">Male</div>
<div class="t " style="left:2049.0px;top:1579.0px;font-size:26px;line-height:26px;color:#11171C;letter-spacing:1.9px;">64</div>
<div class="t " style="left:2449.0px;top:1579.0px;font-size:26px;line-height:26px;color:#11171C;letter-spacing:0.55px;">Clothing</div>
<div class="t " style="left:2849.0px;top:1579.0px;font-size:26px;line-height:26px;color:#11171C;letter-spacing:1.9px;">4</div>
<div class="r" style="left:432px;top:1705px;width:2552px;height:2px;background:#E8ECF0;"></div>
<div class="r" style="left:448px;top:1650px;width:79px;height:38px;background:#F1F2F2;border-radius:7px;"></div>
<div class="t " style="left:456.0px;top:1657.6px;font-size:26px;line-height:26px;color:#C8254A;font-family:'Liberation Mono', monospace;letter-spacing:0.3px;">null</div>
<div class="t " style="left:849.0px;top:1654.0px;font-size:26px;line-height:26px;color:#11171C;letter-spacing:1.8px;">2023-0<span style="margin:0 -1.70px">1</span>-<span style="margin:0 -1.70px">1</span>6</div>
<div class="t " style="left:1249.0px;top:1654.0px;font-size:26px;line-height:26px;color:#11171C;letter-spacing:0.3px;">CUST0<span style="margin:0 -1.60px">1</span>5</div>
<div class="t " style="left:1649.0px;top:1654.0px;font-size:26px;line-height:26px;color:#11171C;letter-spacing:0.2px;">Female</div>
<div class="t " style="left:2049.0px;top:1654.0px;font-size:26px;line-height:26px;color:#11171C;letter-spacing:1.9px;">42</div>
<div class="t " style="left:2449.0px;top:1654.0px;font-size:26px;line-height:26px;color:#11171C;letter-spacing:0.55px;">Electronics</div>
<div class="t " style="left:2849.0px;top:1654.0px;font-size:26px;line-height:26px;color:#11171C;letter-spacing:1.9px;">4</div>
<div class="r" style="left:402px;top:1749px;width:2612px;height:2px;background:#E4E9EE;"></div>
<div class="r" style="left:2623px;top:1785px;width:135px;height:62px;background:#fff;border:2px solid #C0CDD8;border-radius:8px;box-shadow:0 2px 1px rgba(0,0,0,0.05);"></div>
<div class="t " style="left:2649.6px;top:1804.4px;font-size:26px;line-height:26px;color:#11171C;letter-spacing:0.38px;">Cancel</div>
<div class="r" style="left:2782px;top:1784px;width:200px;height:64px;background:#2272B4;border-radius:8px;box-shadow:0 2px 1px rgba(0,0,0,0.06);"></div>
<div class="t " style="left:2808.3px;top:1804.4px;font-size:26px;line-height:26px;color:#fff;letter-spacing:0.6px;">Create table</div>
</div></body></html>
